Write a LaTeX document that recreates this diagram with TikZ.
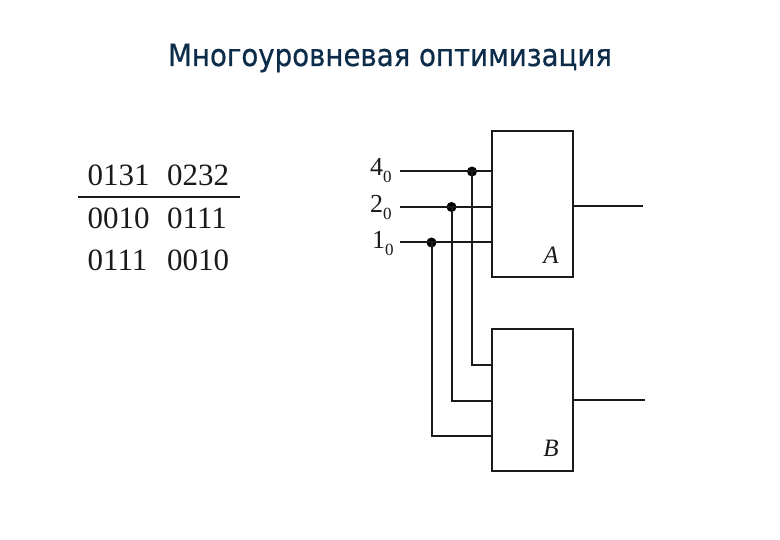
\documentclass[tikz,border=0pt]{standalone}
\usepackage{fontspec}
\setmainfont{Liberation Serif}
\newfontfamily\titlefont[FakeBold=0.6,FakeStretch=0.9]{DejaVu Sans}
\definecolor{titleblue}{HTML}{0C2C4A}
\definecolor{ink}{HTML}{1A1A1A}
\newcommand{\labelsub}[2]{#1\raisebox{-0.25em}{\fontsize{17}{17}\selectfont #2}}
\tikzset{
  wire/.style={draw=ink,line width=2pt},
  block/.style={draw=ink,line width=2pt,fill=white,minimum width=81pt,inner sep=0pt,outer sep=0pt},
  dotmark/.style={circle,fill=black,inner sep=0pt,minimum size=10pt},
  tabletext/.style={font=\fontsize{31}{31}\selectfont,text=ink,anchor=base west,inner sep=0pt},
  inlabel/.style={font=\fontsize{26}{26}\selectfont,text=ink,anchor=base west,inner sep=0pt},
  blockname/.style={font=\fontsize{25}{25}\selectfont\itshape,text=ink,anchor=base,inner sep=0pt},
}
\begin{document}
\begin{tikzpicture}[x=1pt,y=-1pt]
\useasboundingbox[fill=white] (0,0) rectangle (780,540);
\node[font=\titlefont\fontsize{30.7}{31}\selectfont,text=titleblue,anchor=base,inner sep=0pt] (title) at (390,66) {Многоуровневая оптимизация};

\node[tabletext] (t11) at (87.5,186) {0131};
\node[tabletext] (t12) at (167,186) {0232};
\node[tabletext] (t21) at (87.5,229) {0010};
\node[tabletext] (t22) at (167,229) {0111};
\node[tabletext] (t31) at (87.5,271) {0111};
\node[tabletext] (t32) at (167,271) {0010};
\coordinate (ruleL) at (78,197);
\coordinate (ruleR) at (240,197);
\draw[wire] (ruleL) -- (ruleR);

\node[block,minimum height=146pt] (A) at (532.5,204) {};
\node[block,minimum height=142pt] (B) at (532.5,400) {};
\node[blockname] (Aname) at (551,264) {A};
\node[blockname] (Bname) at (551,456) {B};

\node[inlabel] (l4) at (370,176) {\labelsub{4}{0}};
\node[inlabel] (l2) at (370,213) {\labelsub{2}{0}};
\node[inlabel] (l1) at (372,249) {\labelsub{1}{0}};

\coordinate (s4) at (400,171.5);
\coordinate (s2) at (400,207);
\coordinate (s1) at (400,242.5);
\coordinate (a4) at (A.west |- s4);
\coordinate (a2) at (A.west |- s2);
\coordinate (a1) at (A.west |- s1);
\node[dotmark] (d4) at (472,171.5) {};
\node[dotmark] (d2) at (451.5,207) {};
\node[dotmark] (d1) at (431.5,242.5) {};
\draw[wire] (s4) -- (a4);
\draw[wire] (s2) -- (a2);
\draw[wire] (s1) -- (a1);

\coordinate (b4) at (492,365);
\coordinate (b2) at (492,400.5);
\coordinate (b1) at (492,436);
\draw[wire] (d4.center) |- (b4);
\draw[wire] (d2.center) |- (b2);
\draw[wire] (d1.center) |- (b1);

\coordinate (outA) at (643,206);
\coordinate (outB) at (645,400);
\draw[wire] (A.east |- outA) -- (outA);
\draw[wire] (B.east |- outB) -- (outB);
\end{tikzpicture}
\end{document}
